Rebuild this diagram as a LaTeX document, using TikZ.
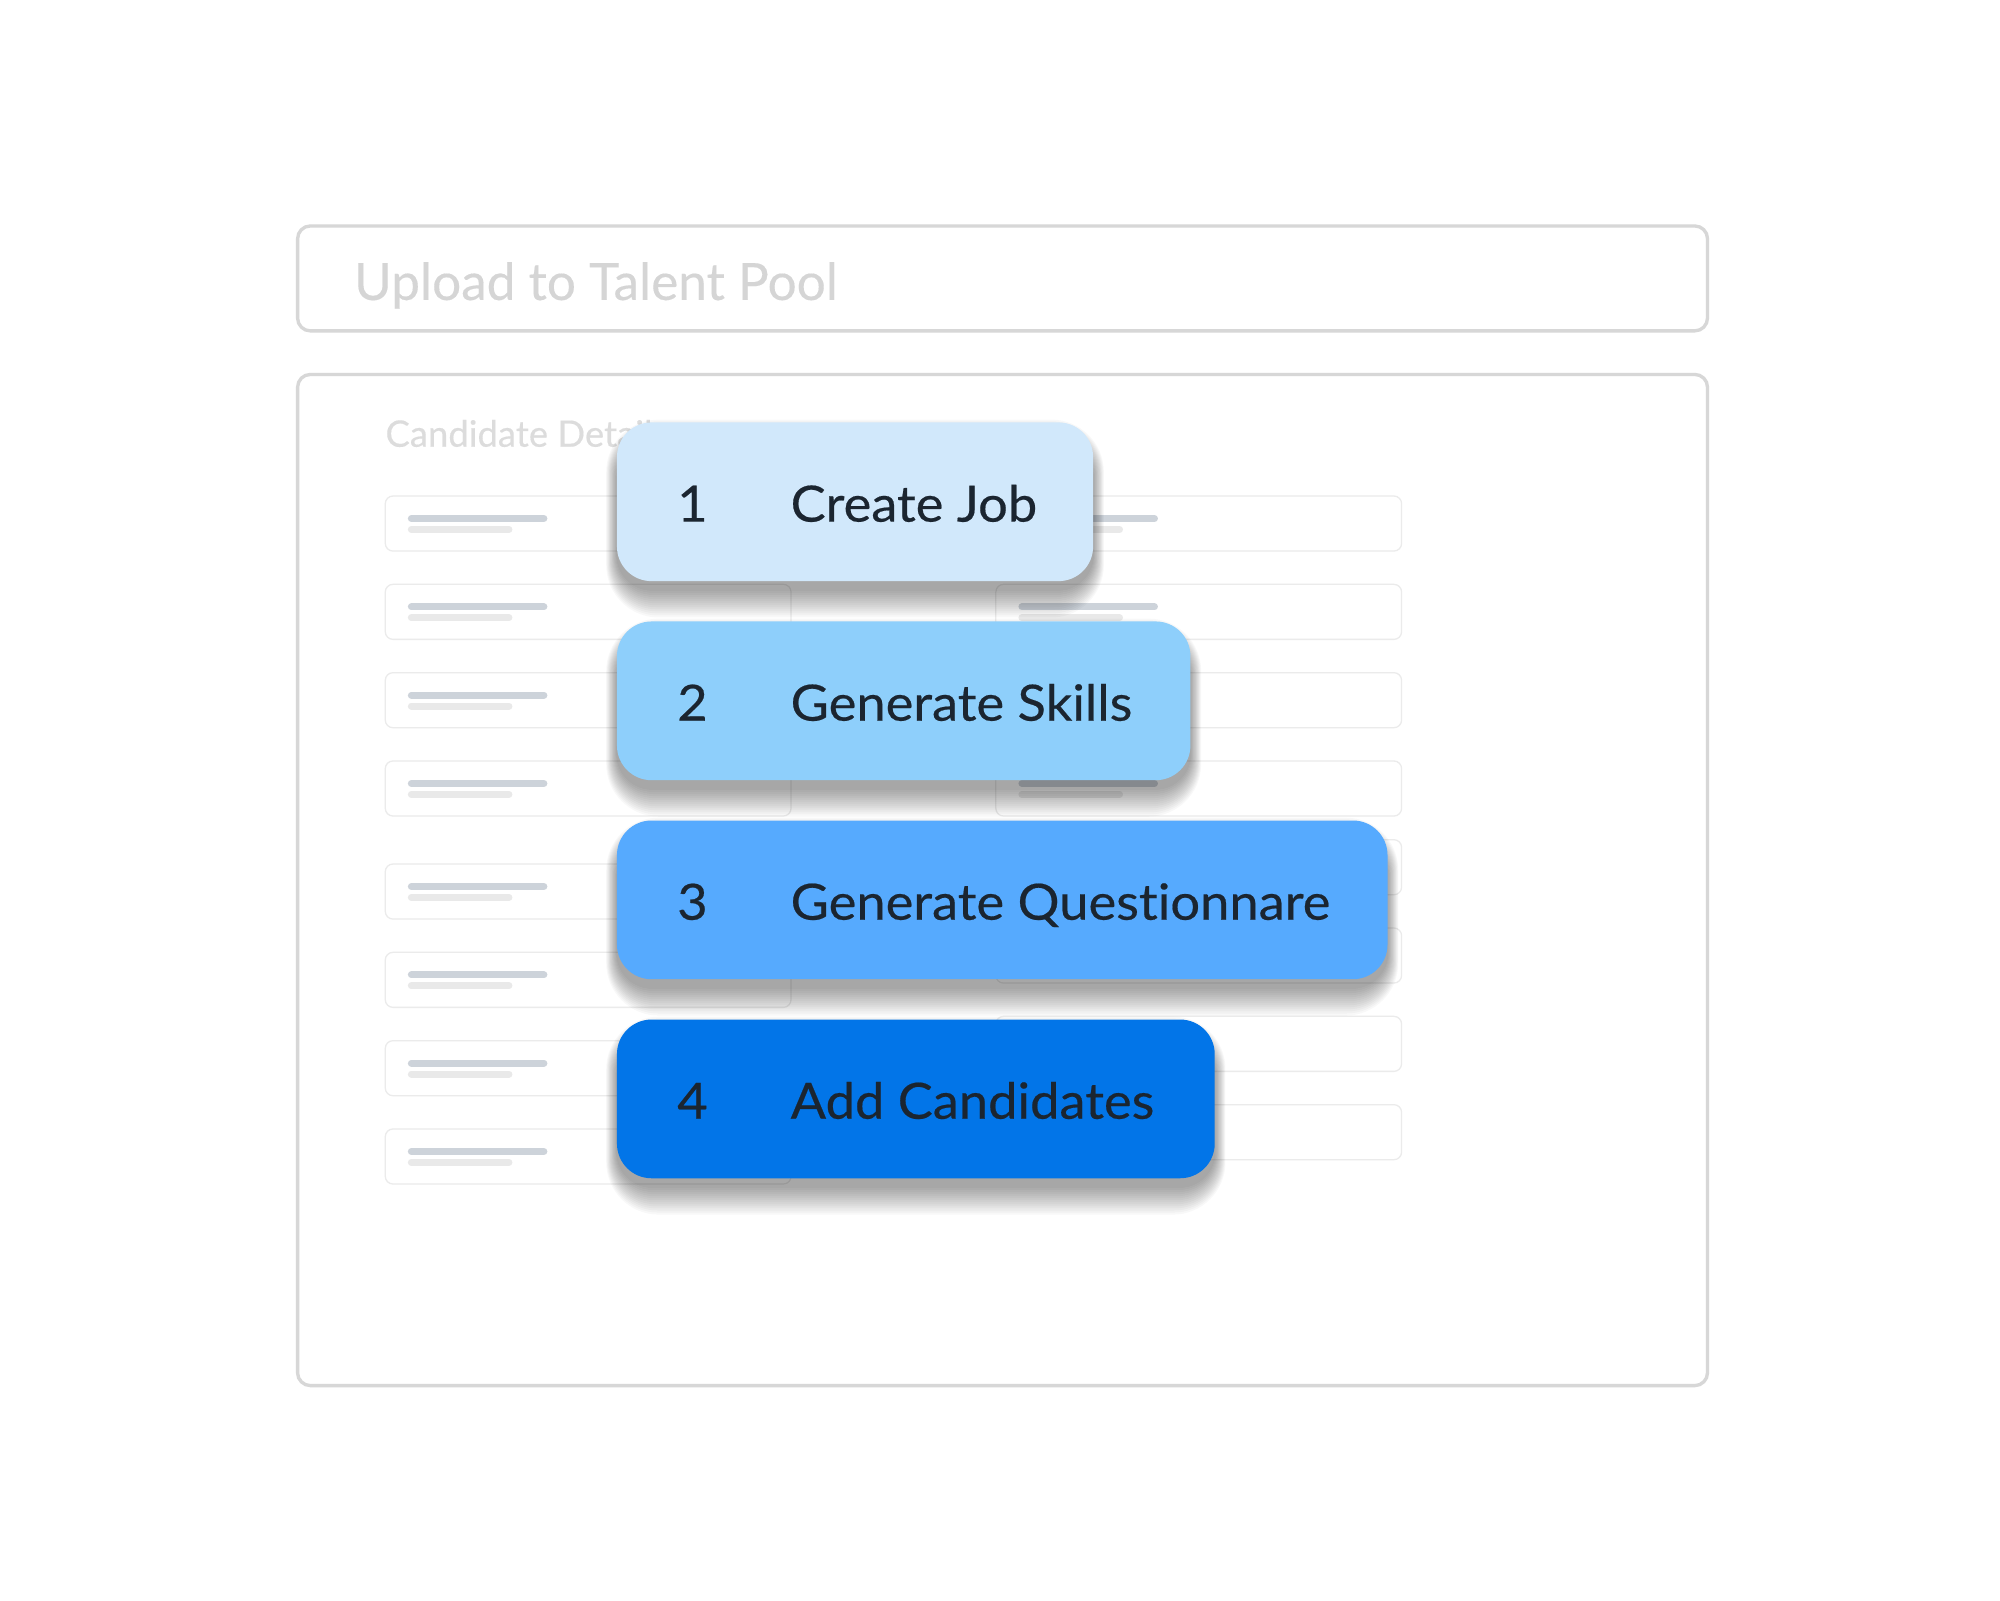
\documentclass[tikz,border=0pt]{standalone}
\usepackage{fontspec}
\setmainfont{Lato}
\newfontfamily\stepfont{Lato}[FakeBold=0.4, FakeStretch=1.05, Ligatures=NoCommon]
\newfontfamily\faintfont{Lato}[FakeBold=0.25]
\usetikzlibrary{calc}

\definecolor{frame}{HTML}{D7D7D7}
\definecolor{faint}{HTML}{D5D5D5}
\definecolor{faintB}{HTML}{DCDCDC}
\definecolor{rowline}{HTML}{EBEBEB}
\definecolor{bardark}{HTML}{CDD3DA}
\definecolor{barlight}{HTML}{E9E9E9}
\definecolor{stepA}{HTML}{D1E8FB}
\definecolor{stepB}{HTML}{8ECFFB}
\definecolor{stepC}{HTML}{56AAFE}
\definecolor{stepD}{HTML}{0275E8}
\definecolor{ink}{HTML}{1B2530}

\tikzset{
	panel/.style={draw=frame, line width=0.026cm, rounded corners=0.1cm},
	rowbox/.style={draw=rowline, line width=0.01cm, rounded corners=0.06cm},
	bar/.style={line width=0.055cm, line cap=round},
	cardshade/.style={black, opacity=0.026},
	stepnum/.style={text=ink, font=\stepfont\fontsize{11.1}{13}\selectfont, anchor=base},
	steptext/.style={text=ink, font=\stepfont\fontsize{11.1}{13}\selectfont, anchor=base west, inner sep=0pt}
}

\begin{document}
\begin{tikzpicture}[x=0.01cm, y=-0.01cm]
	\useasboundingbox (0,0) rectangle (1562.5,1250);
	\fill[white] (0,0) rectangle (1562.5,1250);
	
	% upload field
	\draw[panel] (232.5,176.5) rectangle (1334,258.5);
	\node[text=faint, font=\faintfont\fontsize{11.4}{14}\selectfont, anchor=base west, inner sep=0pt] (upload) at (276,234.3) {Upload to Talent Pool};
	
	% candidate form
	\draw[panel] (232.5,292.5) rectangle (1334,1082.5);
	\node[text=faintB, font=\faintfont\fontsize{8.1}{10}\selectfont, anchor=base west, inner sep=0pt] (details) at (300.5,349) {Candidate Details};
	
	\foreach \x/\y in {301/387.5, 301/456.5, 301/525.5, 301/594.5, 301/675, 301/744, 301/813, 301/882,
		778/387.5, 778/456.5, 778/525.5, 778/594.5, 778/656, 778/725, 778/794, 778/863} {
		\draw[rowbox] (\x,\y) rectangle (\x+317,\y+43);
		\draw[bar, bardark] (\x+20.4,\y+17.6) -- (\x+123.9,\y+17.6);
		\draw[bar, barlight] (\x+20.4,\y+26.1) -- (\x+96.6,\y+26.1);
	}
	
	% step 1
	\foreach \s in {1,...,14}
		\fill[cardshade, rounded corners=0.27cm+\s*0.01cm] (482-\s*0.6,346-\s*1.3) rectangle (854+\s*0.6,460+\s*1.6);
	\fill[stepA, rounded corners=0.27cm] (482,330) rectangle (854,454);
	\node[stepnum] (num1) at (541,407.5) {1};
	\node[steptext] (step1) at (617,407.5) {Create Job};
	
	% step 2
	\foreach \s in {1,...,14}
		\fill[cardshade, rounded corners=0.27cm+\s*0.01cm] (482-\s*0.6,501.5-\s*1.3) rectangle (930+\s*0.6,615.5+\s*1.6);
	\fill[stepB, rounded corners=0.27cm] (482,485.5) rectangle (930,609.5);
	\node[stepnum] (num2) at (541,563) {2};
	\node[steptext] (step2) at (617,563) {Generate Skills};
	
	% step 3
	\foreach \s in {1,...,14}
		\fill[cardshade, rounded corners=0.27cm+\s*0.01cm] (482-\s*0.6,657-\s*1.3) rectangle (1084+\s*0.6,771+\s*1.6);
	\fill[stepC, rounded corners=0.27cm] (482,641) rectangle (1084,765);
	\node[stepnum] (num3) at (541,718.5) {3};
	\node[steptext] (step3) at (617,718.5) {Generate Questionnare};
	
	% step 4
	\foreach \s in {1,...,14}
		\fill[cardshade, rounded corners=0.27cm+\s*0.01cm] (482-\s*0.6,812.5-\s*1.3) rectangle (949+\s*0.6,926.5+\s*1.6);
	\fill[stepD, rounded corners=0.27cm] (482,796.5) rectangle (949,920.5);
	\node[stepnum] (num4) at (541,874) {4};
	\node[steptext] (step4) at (617,874) {Add Candidates};
\end{tikzpicture}
\end{document}
